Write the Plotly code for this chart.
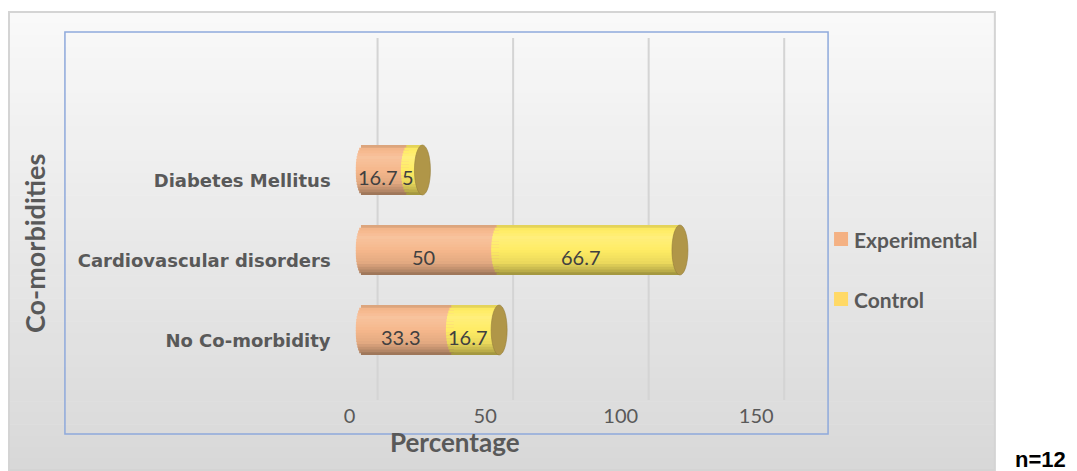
import math
import plotly.graph_objects as go

# ---------------- data ----------------
categories = ["No Co-morbidity", "Cardiovascular disorders", "Diabetes Mellitus"]
experimental = [33.3, 50, 16.7]
control = [16.7, 66.7, 5]
series_names = ["Experimental", "Control"]
x_ticks = [0, 50, 100, 150]
x_title = "Percentage"
y_title = "Co-morbidities"
note = "n=12"

# ---------------- layout constants (target picture pixels) ----------------
W, H = 1077, 471
# horizontal calibration of the rendered page (measured): shot_x = OFF + K * layout_x
OFF, K = 11.0, 0.99


def lx(px):            # target picture x -> layout pixel x
    return (px - OFF) / K


def px_x(px):          # target picture x -> paper coordinate
    return lx(px) / W


def py(px):
    return 1 - px / H


X0_PX = lx(363.0)
PXU = 2.714 / K
DOM_L, DOM_R = lx(355), lx(828)
DOM_T, DOM_B = 38, 400
ROW0_PX = 330.0
ROW_PX = 80.0
BAR_PX = 50.0
CAP_PX = 8.0 / K
GRID_SHIFT_PX = 14.0 / K

GREY = "#595959"
exp_color = (246, 184, 140)
ctl_color = (255, 236, 100)
cap_color = "rgb(176,150,72)"

cap_u = CAP_PX / PXU
half_w = BAR_PX / ROW_PX / 2

prof_t = [0.0, 0.06, 0.25, 0.5, 0.75, 0.9, 1.0]
prof_f = [0.82, 0.98, 1.06, 1.0, 0.92, 0.76, 0.6]


def factor(t):
    for k in range(len(prof_t) - 1):
        if prof_t[k] <= t <= prof_t[k + 1]:
            a = (t - prof_t[k]) / (prof_t[k + 1] - prof_t[k])
            return prof_f[k] + a * (prof_f[k + 1] - prof_f[k])
    return prof_f[-1]


def shade(c, f):
    if f <= 1:
        r = [v * f for v in c]
    else:
        r = [v + (255 - v) * (f - 1) * 2.5 for v in c]
    return "rgb(%d,%d,%d)" % tuple(max(0, min(255, round(v))) for v in r)


fig = go.Figure()
idx = list(range(len(categories)))
N = 18
bw = 2 * half_w / N
ext = 1.0 / ROW_PX
totals = [e + c for e, c in zip(experimental, control)]

for i in range(N):
    t = (i + 0.5) / N
    rnd = math.sqrt(max(0.0, 1 - (2 * t - 1) ** 2))
    e = cap_u * rnd
    extra = ext if i < N - 1 else 0.0
    off = half_w - (i + 1) * bw - extra
    wid = bw + extra
    f = factor(t)
    fig.add_trace(go.Bar(
        orientation="h", y=idx, x=[v + e for v in experimental],
        base=[-e] * len(idx), width=wid, offset=off, name=series_names[0],
        marker=dict(color=shade(exp_color, f), line=dict(width=0)),
        showlegend=False, hoverinfo="skip"))
    fig.add_trace(go.Bar(
        orientation="h", y=idx, x=[c + e for c in control],
        base=[v - e for v in experimental], width=wid, offset=off, name=series_names[1],
        marker=dict(color=shade(ctl_color, f), line=dict(width=0)),
        showlegend=False, hoverinfo="skip"))

shapes = []
top_g, bot_g = 249, 216
NB = 40
y_top, y_bot = 12, 470
for k in range(NB):
    g = round(top_g + (bot_g - top_g) * (k + 0.5) / NB)
    shapes.append(dict(type="rect", xref="paper", yref="paper", layer="below",
                       x0=px_x(8), x1=px_x(995),
                       y0=py(y_top + (y_bot - y_top) * k / NB),
                       y1=py(y_top + (y_bot - y_top) * (k + 1) / NB + 0.5),
                       fillcolor="rgb(%d,%d,%d)" % (g, g, g), line=dict(width=0)))
shapes.append(dict(type="rect", xref="paper", yref="paper", layer="below",
                   x0=px_x(8), x1=px_x(995), y0=py(y_bot), y1=py(y_top),
                   line=dict(color="#d4d4d4", width=2)))
shapes.append(dict(type="rect", xref="paper", yref="paper", layer="below",
                   x0=px_x(64), x1=px_x(828), y0=py(434), y1=py(32),
                   line=dict(color="#8EA9DB", width=1.5)))
for tv in x_ticks:
    xv = tv + GRID_SHIFT_PX / PXU
    shapes.append(dict(type="line", xref="x", yref="paper", layer="below",
                       x0=xv, x1=xv, y0=py(DOM_B), y1=py(DOM_T),
                       line=dict(color="#d4d4d4", width=2)))
for i, tot in zip(idx, totals):
    shapes.append(dict(type="circle", xref="x", yref="y", layer="above",
                       x0=tot - cap_u, x1=tot + cap_u,
                       y0=i - half_w, y1=i + half_w,
                       fillcolor=cap_color, line=dict(color="rgb(150,126,58)", width=0.6)))

annotations = []
for i, e, c in zip(idx, experimental, control):
    for xc, val in ((e / 2, e), (e + c / 2, c)):
        annotations.append(dict(x=xc, y=i, xref="x", yref="y", text=f"{val:g}",
                                showarrow=False, xshift=-8 / K, yshift=-7,
                                font=dict(family="Lato", size=20, color="#404040")))
leg_cols = ["#F4B183", "#FFD966"]
leg_y = [239, 299]
for name, col, yy in zip(series_names, leg_cols, leg_y):
    shapes.append(dict(type="rect", xref="paper", yref="paper",
                       x0=px_x(834), x1=px_x(848), y0=py(yy + 7), y1=py(yy - 7),
                       fillcolor=col, line=dict(width=0)))
    annotations.append(dict(x=px_x(852), y=py(yy), xref="paper", yref="paper",
                            text=name, showarrow=False, xanchor="left", yanchor="middle",
                            font=dict(family="Lato", size=21, color=GREY, weight="bold")))
annotations.append(dict(x=px_x(455), y=py(442), xref="paper", yref="paper", text=x_title,
                        showarrow=False, xanchor="center", yanchor="middle",
                        font=dict(family="Lato", size=26, color=GREY, weight="bold")))
annotations.append(dict(x=px_x(33), y=py(243), xref="paper", yref="paper", text=y_title,
                        showarrow=False, xanchor="center", yanchor="middle", textangle=-90,
                        font=dict(family="Lato", size=27, color=GREY, weight="bold")))
annotations.append(dict(x=px_x(1041), y=py(459), xref="paper", yref="paper", text=note,
                        showarrow=False, xanchor="center", yanchor="middle",
                        font=dict(family="Liberation Sans", size=22, color="#000000", weight="bold")))

fig.update_layout(
    width=W, height=H, margin=dict(l=0, r=0, t=0, b=0),
    paper_bgcolor="white", plot_bgcolor="rgba(0,0,0,0)",
    barmode="overlay", showlegend=False,
    shapes=shapes, annotations=annotations,
    xaxis=dict(domain=[DOM_L / W, DOM_R / W],
               range=[(DOM_L - X0_PX) / PXU, (DOM_R - X0_PX) / PXU],
               tickvals=x_ticks, ticktext=[str(v) for v in x_ticks],
               showgrid=False, zeroline=False, showline=False,
               ticklabelshift=int(round(-14 / K)), ticklabelstandoff=2,
               tickfont=dict(family="Lato", size=20, color=GREY)),
    yaxis=dict(domain=[py(DOM_B), py(DOM_T)],
               range=[(ROW0_PX - DOM_B) / ROW_PX, (ROW0_PX - DOM_T) / ROW_PX],
               tickvals=idx, ticktext=categories,
               showgrid=False, zeroline=False, showline=False,
               ticklabelshift=11, ticklabelstandoff=int(round(24 / K)),
               tickfont=dict(family="DejaVu Sans", size=18, color=GREY, weight="bold")),
)

fig.write_html("out.html")
